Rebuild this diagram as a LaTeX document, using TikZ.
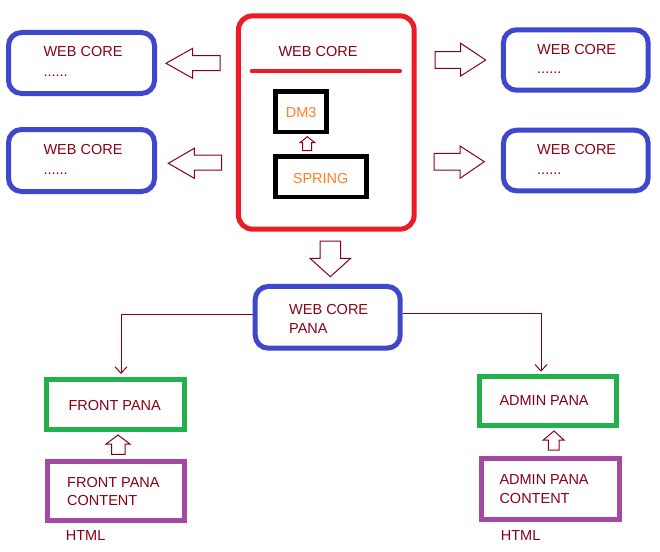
\documentclass[tikz,border=0pt]{standalone}
\usepackage{fontspec}
\setmainfont{Liberation Sans}
\usetikzlibrary{arrows.meta}
\definecolor{txtred}{HTML}{880015}
\definecolor{pblue}{HTML}{3F48CC}
\definecolor{pred}{HTML}{ED1C24}
\definecolor{pgreen}{HTML}{22B14C}
\definecolor{ppurple}{HTML}{A349A4}
\definecolor{porange}{HTML}{FF7F27}
\begin{document}
\begin{tikzpicture}[x=1pt,y=-1pt,
  font=\fontsize{14.5}{17}\selectfont,
  txt/.style={anchor=base west,inner sep=0pt,text=txtred},
  otxt/.style={anchor=base west,inner sep=0pt,text=porange},
  bluebox/.style={draw=pblue,line width=5pt,rounded corners=13pt,inner sep=0pt},
  redbox/.style={draw=pred,line width=5pt,rounded corners=14pt,inner sep=0pt},
  blackbox/.style={draw=black,line width=4.7pt,inner sep=0pt},
  greenbox/.style={draw=pgreen,line width=5pt,inner sep=0pt},
  purplebox/.style={draw=ppurple,line width=5pt,inner sep=0pt},
  hollow/.style={draw=txtred,line width=1pt,fill=white,line join=miter},
  conn/.style={draw=txtred,line width=1pt,-{Straight Barb[length=6.5pt,width=12pt]}}]
\useasboundingbox[fill=white] (0,0) rectangle (660,551);

% top left boxes
\node[bluebox,minimum width=146,minimum height=61] (lb1) at (81.5,63) {};
\node[txt] (lb1t) at (43.3,56.7) {WEB CORE};
\node[txt] (lb1d) at (43.3,76.5) {......};
\node[bluebox,minimum width=146,minimum height=62] (lb2) at (81.5,160.5) {};
\node[txt] (lb2t) at (43.3,154) {WEB CORE};
\node[txt] (lb2d) at (43.3,174) {......};

% top right boxes
\node[bluebox,minimum width=144.7,minimum height=60.4] (rb1) at (575.8,60) {};
\node[txt] (rb1t) at (537,54.3) {WEB CORE};
\node[txt] (rb1d) at (537,73.3) {......};
\node[bluebox,minimum width=144.7,minimum height=60.6] (rb2) at (575.8,160.5) {};
\node[txt] (rb2t) at (537,154.3) {WEB CORE};
\node[txt] (rb2d) at (537,174) {......};

% center box
\node[redbox,minimum width=175.7,minimum height=213.3] (core) at (326.3,122.5) {};
\node[txt] (coret) at (278.3,56.7) {WEB CORE};
\draw[draw=pred,line width=4pt,line cap=round] (251.7,71.3) -- (400,71.3);
\node[blackbox,minimum width=50.7,minimum height=40.3] (dm3) at (301,111.8) {};
\node[otxt] (dm3t) at (285.7,117.3) {DM3};
\node[blackbox,minimum width=90.7,minimum height=40.6] (spring) at (321,176.7) {};
\node[otxt] (springt) at (292.7,183.3) {SPRING};

% hollow arrows
\draw[hollow] (166,63.3) -- (192.7,48.3) -- (192.7,55.7) -- (220,55.7) -- (220,70.7) -- (192.7,70.7) -- (192.7,78.3) -- cycle;
\draw[hollow] (168.3,163.3) -- (194.3,148.3) -- (194.3,155) -- (221.7,155) -- (221.7,170) -- (194.3,170) -- (194.3,178.3) -- cycle;
\draw[hollow] (485.7,60) -- (460.7,43.3) -- (460.7,51.7) -- (435,51.7) -- (435,68.3) -- (460.7,68.3) -- (460.7,76) -- cycle;
\draw[hollow] (484.3,161.7) -- (460,146) -- (460,153.3) -- (434,153.3) -- (434,170) -- (460,170) -- (460,178.3) -- cycle;
\draw[hollow] (330.3,276.7) -- (310,258.3) -- (320,258.3) -- (320,241) -- (340.7,241) -- (340.7,258.3) -- (350.7,258.3) -- cycle;
\draw[hollow] (307.3,136.7) -- (300,142.7) -- (302.7,142.7) -- (302.7,150.7) -- (311.7,150.7) -- (311.7,142.7) -- (315,142.7) -- cycle;
\draw[hollow] (118,435) -- (106,444) -- (111.7,444) -- (111.7,454.3) -- (125,454.3) -- (125,444) -- (130,444) -- cycle;
\draw[hollow] (554,431) -- (543.3,440) -- (548.3,440) -- (548.3,450) -- (559,450) -- (559,440) -- (564,440) -- cycle;

% web core pana
\node[bluebox,minimum width=145,minimum height=61.7] (pana) at (327.7,317.3) {};
\node[txt] (panat1) at (289,314.3) {WEB CORE};
\node[txt] (panat2) at (289,333.3) {PANA};

% front
\node[greenbox,minimum width=138.3,minimum height=50] (front) at (115.7,404.8) {};
\node[txt] (frontt) at (68.3,410.3) {FRONT PANA};
\node[purplebox,minimum width=137.3,minimum height=59.6] (fc) at (116.2,491) {};
\node[txt] (fct1) at (67,487.3) {FRONT PANA};
\node[txt] (fct2) at (67,505.7) {CONTENT};
\node[txt] (fhtml) at (65.7,540.7) {HTML};

% admin
\node[greenbox,minimum width=137.6,minimum height=49.3] (admin) at (548,401.2) {};
\node[txt] (admint) at (499.3,405.3) {ADMIN PANA};
\node[purplebox,minimum width=137.7,minimum height=60.7] (ac) at (550.3,488.8) {};
\node[txt] (act1) at (499.3,484.3) {ADMIN PANA};
\node[txt] (act2) at (499.3,503.3) {CONTENT};
\node[txt] (ahtml) at (500.7,540) {HTML};

% connectors
\coordinate (fj) at (121,314.3);
\coordinate (ftip) at (121,374);
\coordinate (aj) at (541,313.3);
\coordinate (atip) at (541,371.7);
\draw[conn] (pana.west |- fj) -| (ftip);
\draw[conn] (pana.east |- aj) -| (atip);
\end{tikzpicture}
\end{document}
